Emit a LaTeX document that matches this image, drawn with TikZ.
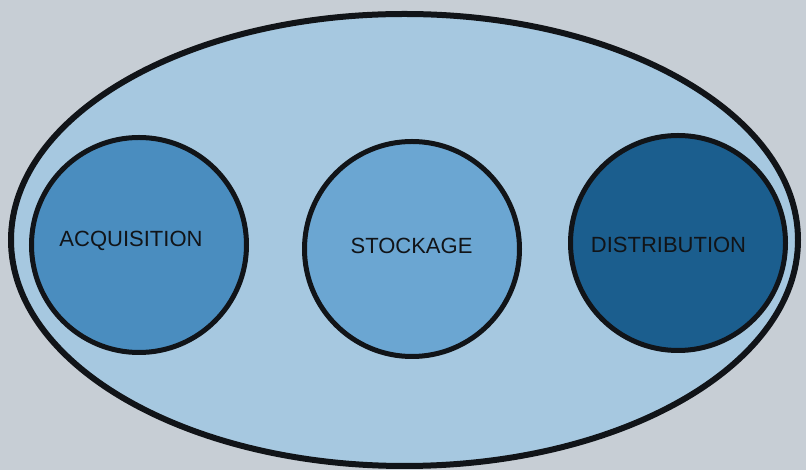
\documentclass[tikz,border=0pt]{standalone}
\usepackage{fontspec}
\setmainfont{Liberation Sans}
\usetikzlibrary{shapes.geometric}
\definecolor{paper}{HTML}{C7CED5}
\definecolor{outerfill}{HTML}{A6C8E0}
\definecolor{acqfill}{HTML}{4A8DBF}
\definecolor{stofill}{HTML}{6BA6D2}
\definecolor{disfill}{HTML}{1B5E8E}
\definecolor{ink}{HTML}{111418}
\tikzset{
  systembox/.style={ellipse, draw=ink, line width=6pt, fill=outerfill,
    minimum width=787pt, minimum height=452pt, inner sep=0pt},
  phasebox/.style={circle, draw=ink, line width=5pt,
    minimum size=215pt, inner sep=0pt},
  phaselabel/.style={font=\fontsize{22}{26}\selectfont, text=ink, inner sep=0pt}
}
\begin{document}
\begin{tikzpicture}[x=1pt,y=1pt]
  \fill[paper] (0,0) rectangle (806,470);
  \useasboundingbox (0,0) rectangle (806,470);
  % enclosing system
  \node[systembox] (sys) at (404.5,230) {};
  % the three stages
  \node[phasebox, fill=acqfill] (acq) at (139,225) {};
  \node[phasebox, fill=stofill] (sto) at (412,221) {};
  \node[phasebox, fill=disfill] (dis) at (678,227) {};
  % stage names
  \node[phaselabel] (acqt) at (131,229) {ACQUISITION};
  \node[phaselabel] (stot) at (411.5,224) {STOCKAGE};
  \node[phaselabel] (dist) at (668.5,225) {DISTRIBUTION};
\end{tikzpicture}
\end{document}
